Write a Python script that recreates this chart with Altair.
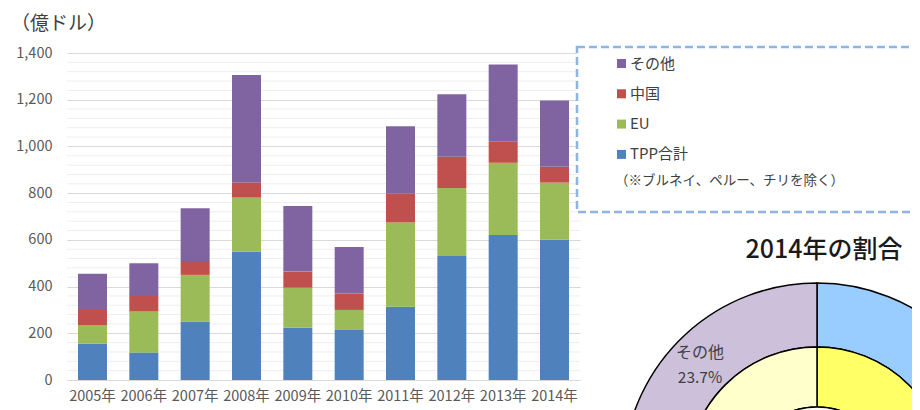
import altair as alt
import pandas as pd

# ---- data ----
years = ["2005年", "2006年", "2007年", "2008年", "2009年",
         "2010年", "2011年", "2012年", "2013年", "2014年"]
tpp = [155, 118, 250, 549, 224, 214, 314, 531, 621, 600]
eu = [80, 177, 200, 232, 171, 86, 361, 291, 309, 245]
china = [65, 65, 60, 65, 69, 71, 124, 134, 90, 68]
other = [155, 140, 225, 460, 281, 198, 287, 267, 331, 284]

series = ["TPP合計", "EU", "中国", "その他"]
legend_order = ["その他", "中国", "EU", "TPP合計"]
legend_colors = ["#8064A2", "#C0504D", "#9BBB59", "#4F81BD"]

y_ticks = [0, 200, 400, 600, 800, 1000, 1200, 1400]
minor_ticks = [v for v in range(40, 1400, 40) if v % 200 != 0]

# donut (2014)
ring_outer_names = ["TPP合計", "EU", "中国", "その他"]
ring_outer_values = [tpp[-1], eu[-1], china[-1], other[-1]]
ring_outer_fills = ["#99CCFF", "#D7E4BD", "#E6B9B8", "#CCC0DA"]
ring_mid_names = ["TPP", "TPP以外"]
ring_mid_values = [tpp[-1], eu[-1] + china[-1] + other[-1]]
ring_mid_fills = ["#FFFF66", "#FFFFCC"]

FONT = "Noto Sans CJK JP"

rows = []
for i, y in enumerate(years):
    for k, (s, vals) in enumerate(zip(series, [tpp, eu, china, other])):
        rows.append({"year": y, "series": s, "value": vals[i], "ord": k})
df = pd.DataFrame(rows)

yscale = alt.Scale(domain=[0, 1400], nice=False)
yaxis = alt.Axis(title=None, values=y_ticks,
                 labelExpr="format(datum.value, ',')",
                 labelFontSize=14.5, labelColor="#595959",
                 domain=False, ticks=False, gridColor="#D9D9D9",
                 labelPadding=15)

minor = alt.Chart(pd.DataFrame({"v": minor_ticks})).mark_rule(
    color="#EEEEEE", strokeWidth=1
).encode(y=alt.Y("v:Q", scale=yscale, axis=yaxis))

bars = alt.Chart(df).mark_bar().encode(
    x=alt.X("year:N", sort=years,
            scale=alt.Scale(paddingInner=0.435, paddingOuter=0.214),
            axis=alt.Axis(title=None, labelAngle=0, ticks=False,
                          domainColor="#D9D9D9", labelFontSize=14.5,
                          labelColor="#595959", labelPadding=9, grid=False)),
    y=alt.Y("value:Q", stack="zero", scale=yscale, axis=yaxis),
    color=alt.Color("series:N",
                    scale=alt.Scale(domain=legend_order, range=legend_colors),
                    legend=alt.Legend(title=None, orient="none", legendX=547,
                                      legendY=3, symbolType="square",
                                      symbolSize=81, symbolStrokeWidth=0,
                                      labelFontSize=15, labelColor="#404040",
                                      rowPadding=14.3, labelOffset=1, padding=0)),
    order=alt.Order("ord:Q", sort="ascending"),
)

one = pd.DataFrame({"a": [0]})

legend_box = alt.Chart(one).mark_rect(
    fill="white", stroke="#8DB4E2", strokeWidth=2.5, strokeDash=[8, 4]
).encode(x=alt.value(510), x2=alt.value(900), y=alt.value(-6), y2=alt.value(159))

note = alt.Chart(one).mark_text(
    text="（※ブルネイ、ペルー、チリを除く）", align="left", baseline="middle",
    fontSize=13.5, color="#404040", font=FONT
).encode(x=alt.value(548), y=alt.value(128))

unit = alt.Chart(one).mark_text(
    text="（億ドル）", align="left", baseline="middle",
    fontSize=19, color="#404040", font=FONT
).encode(x=alt.value(-56), y=alt.value(-29))

outer_df = pd.DataFrame({"n": ring_outer_names, "v": ring_outer_values,
                         "c": ring_outer_fills, "o": list(range(4))})
mid_df = pd.DataFrame({"n": ring_mid_names, "v": ring_mid_values,
                       "c": ring_mid_fills, "o": list(range(2))})

outer_ring = alt.Chart(outer_df).mark_arc(
    radius=194, radius2=130, stroke="black", strokeWidth=1.5
).encode(theta=alt.Theta("v:Q", stack=True), order=alt.Order("o:Q"),
         fill=alt.Fill("c:N", scale=None), x=alt.value(750), y=alt.value(424))

mid_ring = alt.Chart(mid_df).mark_arc(
    radius=130, radius2=70, stroke="black", strokeWidth=1.5
).encode(theta=alt.Theta("v:Q", stack=True), order=alt.Order("o:Q"),
         fill=alt.Fill("c:N", scale=None), x=alt.value(750), y=alt.value(424))

inner = alt.Chart(one).mark_arc(
    radius=70, radius2=0, theta=0, theta2=6.2832, fill="white",
    stroke="black", strokeWidth=1.5
).encode(x=alt.value(750), y=alt.value(424))

share = other[-1] / sum(ring_outer_values) * 100
pie_lbl1 = alt.Chart(one).mark_text(
    text="その他", align="center", baseline="middle", fontSize=16,
    color="#404040", font=FONT
).encode(x=alt.value(633), y=alt.value(300))
pie_lbl2 = alt.Chart(one).mark_text(
    text=f"{share:.1f}%", align="center", baseline="middle", fontSize=15.5,
    color="#404040", font=FONT
).encode(x=alt.value(633), y=alt.value(325))

pie_title = alt.Chart(one).mark_text(
    text="2014年の割合", align="center", baseline="middle", fontSize=25,
    fontWeight=500, color="#1a1a1a", font=FONT
).encode(x=alt.value(757), y=alt.value(197))

chart = alt.layer(
    minor, bars, legend_box, note, unit,
    outer_ring, mid_ring, inner, pie_lbl1, pie_lbl2, pie_title
).resolve_scale(theta="independent").properties(
    width=513, height=327,
    autosize=alt.AutoSizeParams(type="none"),
    padding={"left": 59, "top": 45, "right": 332, "bottom": 30},
).configure(font=FONT).configure_view(stroke=None)

chart.save("out.html", embed_options={"renderer": "svg", "actions": False})
